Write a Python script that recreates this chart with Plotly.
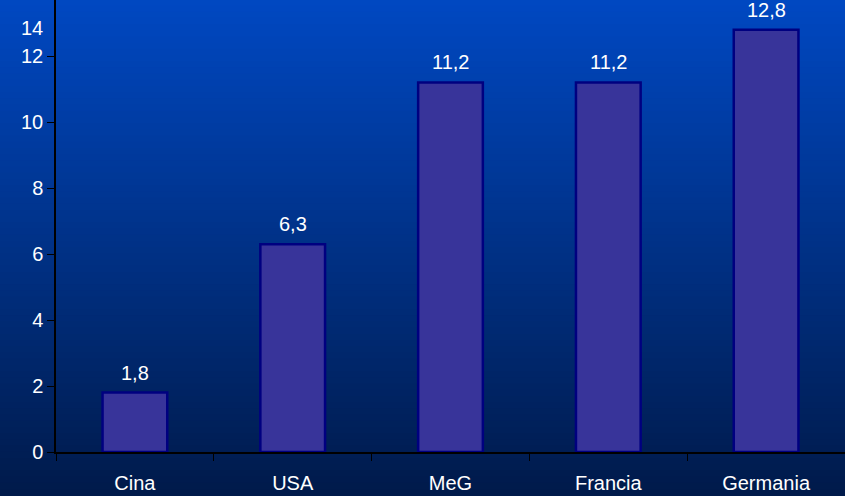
import plotly.graph_objects as go

categories = ["Cina", "USA", "MeG", "Francia", "Germania"]
values = [1.8, 6.3, 11.2, 11.2, 12.8]
value_labels = ["1,8", "6,3", "11,2", "11,2", "12,8"]
y_ticks = [0, 2, 4, 6, 8, 10, 12]

FONT = "Liberation Sans Narrow, Arial Narrow, Liberation Sans, Arial, sans-serif"
FS = 20

fig = go.Figure()
fig.add_trace(go.Bar(
    x=categories, y=values,
    marker=dict(color="#38349a", line=dict(color="#000080", width=2.5)),
    width=0.41,
    hoverinfo="skip",
))

# value labels above bars
for c, v, t in zip(categories, values, value_labels):
    fig.add_annotation(x=c, y=v, text=t, showarrow=False, yanchor="bottom",
                       yshift=7, font=dict(family=FONT, size=FS, color="white"))

# gradient background
W, H = 845, 496
l, r, t, b = 56, 0, 0, 44
pw, ph = W - l - r, H - t - b
top = (0, 72, 194)
bot = (0, 26, 74)
N = 80
shapes = []
for i in range(N):
    f0 = i / N
    f1 = (i + 1) / N
    fm = (i + 0.5) / N
    col = tuple(round(top[k] + (bot[k] - top[k]) * fm) for k in range(3))
    y0px, y1px = f0 * H, f1 * H
    y0 = (H - b - y0px) / ph
    y1 = (H - b - y1px) / ph
    shapes.append(dict(type="rect", xref="paper", yref="paper",
                       x0=-l / pw - 0.01, x1=1.01, y0=y1 - 0.002, y1=y0 + 0.002,
                       fillcolor="rgb(%d,%d,%d)" % col, line=dict(width=0),
                       layer="below"))

fig.update_layout(
    width=W, height=H,
    margin=dict(l=l, r=r, t=t, b=b),
    paper_bgcolor="#001a4a",
    plot_bgcolor="rgba(0,0,0,0)",
    shapes=shapes,
    showlegend=False,
    font=dict(family=FONT, size=FS, color="white"),
    xaxis=dict(
        showline=True, linecolor="black", linewidth=1.5,
        ticks="outside", tickson="boundaries", ticklen=7, tickcolor="black",
        tickwidth=1, showgrid=False, ticklabelstandoff=12,
        tickfont=dict(family=FONT, size=FS, color="white"),
        range=[-0.5, 4.5],
    ),
    yaxis=dict(
        range=[0, 13.7], tickvals=y_ticks, ticktext=[str(v) for v in y_ticks],
        showline=True, linecolor="black", linewidth=1.5,
        ticks="outside", ticklen=7, tickcolor="black", tickwidth=1,
        showgrid=False, zeroline=False,
        tickfont=dict(family=FONT, size=FS, color="white"),
    ),
)

# "14" label drawn at the top-left, as in the reference
fig.add_annotation(xref="paper", yref="paper", x=0, y=(H - b - 28) / ph,
                   xanchor="right", xshift=-11, yanchor="middle", showarrow=False,
                   text="14", font=dict(family=FONT, size=FS, color="white"))

fig.write_html("out.html")
